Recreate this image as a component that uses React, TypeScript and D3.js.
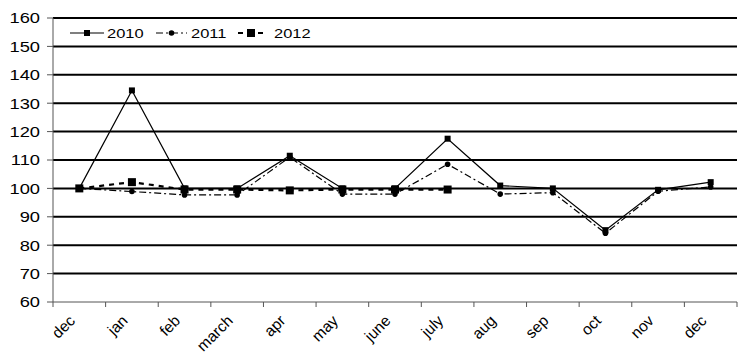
import React from "react";
import * as d3 from "d3";

const categories = ["dec", "jan", "feb", "march", "apr", "may", "june", "july", "aug", "sep", "oct", "nov", "dec"];
const series2010 = [100, 134.5, 100, 100, 111.5, 100, 100, 117.5, 101, 100, 85.3, 99.5, 102.2];
const series2011 = [100, 98.9, 97.7, 97.7, 111, 98, 98, 108.5, 98, 98.5, 84.2, 99, 100.5];
const series2012 = [100, 102.2, 99.6, 99.6, 99.3, 99.6, 99.6, 99.6];
const yTicks = [60, 70, 80, 90, 100, 110, 120, 130, 140, 150, 160];
const seriesNames = ["2010", "2011", "2012"];

const W = 745, H = 354;
const M = { left: 53, right: 8, top: 18, bottom: 52 };
const SX = 1.22;

export default function App() {
  const x = d3.scaleBand<number>().domain(categories.map((_, i) => i)).range([M.left, W - M.right]).padding(0);
  const y = d3.scaleLinear().domain([60, 160]).range([H - M.bottom, M.top]);
  const cx = (i: number) => (x(i) as number) + x.bandwidth() / 2;
  const line = d3.line<number>().x((_, i) => cx(i)).y((d) => y(d));
  const font = "'Liberation Sans', Arial, sans-serif";
  const styles = [
    { dash: "none", width: 1.2, marker: "sq", size: 6 },
    { dash: "7,3,2,3", width: 1.2, marker: "circ", size: 2.8 },
    { dash: "5,5", width: 2.2, marker: "sq", size: 8 },
  ];
  const data = [series2010, series2011, series2012];
  const ticksX = d3.range(categories.length + 1).map((i) => M.left + i * x.bandwidth());
  const marker = (m: string, s: number, px: number, py: number, k: string) =>
    m === "sq" ? (
      <rect key={k} x={px - s / 2} y={py - s / 2} width={s} height={s} fill="#000" />
    ) : (
      <circle key={k} cx={px} cy={py} r={s} fill="#000" />
    );
  const legend = [
    { x1: 70, x2: 104, tx: 107 },
    { x1: 156, x2: 187, tx: 191 },
    { x1: 238, x2: 264, tx: 274 },
  ];
  return (
    <svg width={W} height={H} style={{ position: "absolute", left: 0, top: 0, background: "#fff" }}>
      {yTicks.map((t) => (
        <g key={t}>
          {t > 60 && <line x1={M.left} x2={W - M.right} y1={y(t)} y2={y(t)} stroke="#000" strokeWidth={2} />}
          <line x1={M.left - 6} x2={M.left} y1={y(t)} y2={y(t)} stroke="#555" strokeWidth={1} />
          <text transform={`translate(${M.left - 13},${y(t)}) scale(${SX},1)`} dy="0.36em" textAnchor="end" fontFamily={font} fontSize={15}>{t}</text>
        </g>
      ))}
      <line x1={M.left} x2={M.left} y1={M.top} y2={H - M.bottom} stroke="#555" strokeWidth={1} />
      <line x1={M.left} x2={W - M.right} y1={y(60)} y2={y(60)} stroke="#555" strokeWidth={1} />
      {ticksX.map((tx, i) => (
        <line key={i} x1={tx} x2={tx} y1={y(60)} y2={y(60) + 5} stroke="#555" strokeWidth={1} />
      ))}
      {categories.map((c, i) => (
        <text key={i} transform={`translate(${cx(i) - 11},${y(60) + 12}) rotate(-45)`} textAnchor="end" dy="0.7em" fontFamily={font} fontSize={15.5}>{c}</text>
      ))}
      {data.map((s, k) => (
        <g key={k}>
          <path d={line(s) as string} fill="none" stroke="#000" strokeWidth={styles[k].width} strokeDasharray={styles[k].dash} />
          {s.map((v, i) => marker(styles[k].marker, styles[k].size, cx(i), y(v), `${k}-${i}`))}
        </g>
      ))}
      {seriesNames.map((n, k) => (
        <g key={n}>
          <line x1={legend[k].x1} x2={legend[k].x2} y1={33} y2={33} stroke="#000" strokeWidth={styles[k].width} strokeDasharray={styles[k].dash} />
          {marker(styles[k].marker, styles[k].size, (legend[k].x1 + legend[k].x2) / 2, 33, `lg${k}`)}
          <text transform={`translate(${legend[k].tx},33) scale(${SX},1)`} dy="0.36em" fontFamily={font} fontSize={13.5}>{n}</text>
        </g>
      ))}
    </svg>
  );
}
